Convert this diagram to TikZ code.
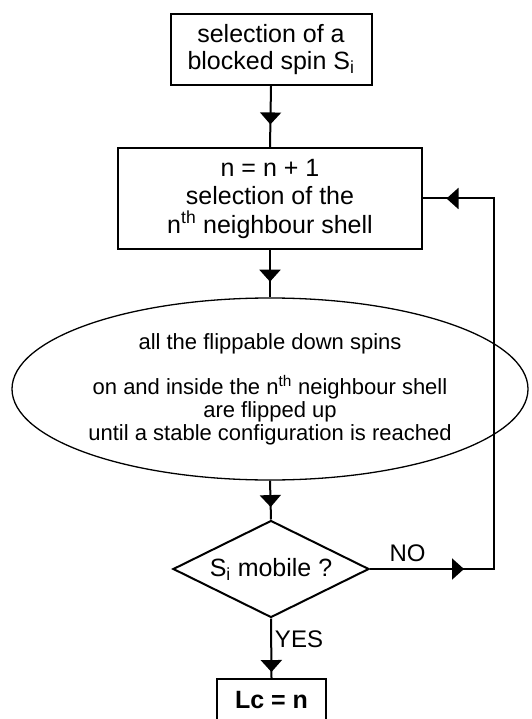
\documentclass[tikz,border=0pt]{standalone}
\usepackage{fontspec}
\setmainfont{Liberation Sans}
\usetikzlibrary{shapes.geometric,arrows.meta,decorations.markings}
\tikzset{
  procbox/.style={draw, line width=2pt, align=center, inner sep=0pt},
  flow/.style={line width=2pt},
  midtip/.style={postaction={decorate}, decoration={markings,
      mark=at position #1 with {\arrow{Triangle[width=21pt,length=12pt]}}}},
  looptips/.style={postaction={decorate}, decoration={markings,
      mark=at position 94pt with {\arrow{Triangle[width=21pt,length=12pt]}},
      mark=at position 542pt with {\arrow{Triangle[width=21pt,length=12pt]}}}},
  lbl/.style={font=\fontsize{24}{26}\selectfont, inner sep=0pt}
}
\begin{document}
\begin{tikzpicture}[x=1pt,y=-1pt, font=\fontsize{25}{27}\selectfont]
\useasboundingbox (0,0) rectangle (531,719);
\clip (0,0) rectangle (531,719);

\node[procbox, minimum width=201pt, minimum height=71pt] (b1) at (271,49.5)
  {selection of a\\blocked spin S\textsubscript{i}};
\node[procbox, minimum width=304pt, minimum height=101pt,
      font=\fontsize{25}{28.5}\selectfont] (b2) at (270,198.5)
  {n = n + 1\\selection of the\\n\textsuperscript{th} neighbour shell};
\node[ellipse, draw, line width=1.3pt, minimum width=516pt, minimum height=182pt,
      inner sep=0pt, align=center, font=\fontsize{22}{23}\selectfont] (el) at (270,389)
  {all the flippable down spins\\[21pt]on and inside the n\textsuperscript{th} neighbour shell\\are flipped up\\until a stable configuration is reached};
\node[diamond, draw, line width=2pt, minimum width=196pt, minimum height=97pt,
      inner sep=0pt, aspect=2] (d) at (271,569) {S\textsubscript{i} mobile ?};
\node[procbox, minimum width=109pt, minimum height=48pt, anchor=north,
      text height=18pt, text depth=8pt,
      font=\bfseries\fontsize{25}{28}\selectfont] (lc) at (271.5,678) {Lc = n};

\coordinate (c1) at (494,569);
\coordinate (c2) at (b2.east -| c1);

\draw[flow, midtip=0.63] (b1.south) -- (b2.north);
\draw[flow, midtip=0.67] (b2.south) -- (el.north);
\draw[flow, midtip=0.68] (el.south) -- (d.north);
\draw[flow, midtip=0.90] (d.south) -- (lc.north);
\draw[flow, looptips] (d.east) -- (c1) -- (c2) -- (b2.east);

\node[lbl] (no) at (407.5,553.5) {NO};
\node[lbl] (yes) at (299,639) {YES};
\end{tikzpicture}
\end{document}
